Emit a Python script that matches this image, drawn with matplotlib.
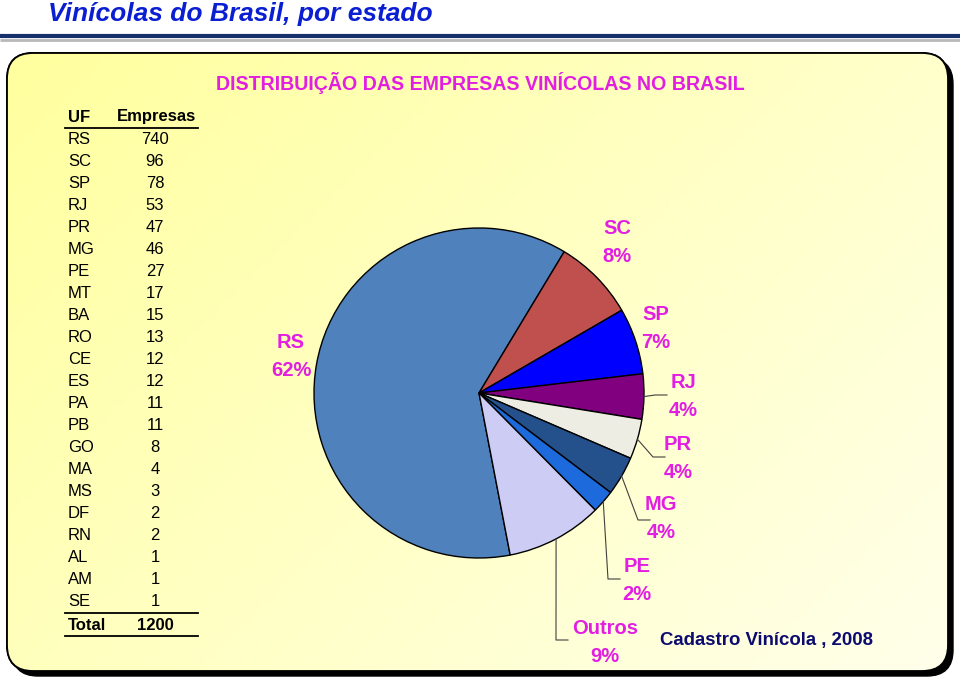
import numpy as np
import matplotlib
matplotlib.use("Agg")
import matplotlib.pyplot as plt
from matplotlib.patches import FancyBboxPatch

plt.rcParams['font.family'] = ['Liberation Sans', 'DejaVu Sans']

# dados da tabela
uf = ['RS', 'SC', 'SP', 'RJ', 'PR', 'MG', 'PE', 'MT', 'BA', 'RO', 'CE', 'ES',
      'PA', 'PB', 'GO', 'MA', 'MS', 'DF', 'RN', 'AL', 'AM', 'SE']
empresas = [740, 96, 78, 53, 47, 46, 27, 17, 15, 13, 12, 12,
            11, 11, 8, 4, 3, 2, 2, 1, 1, 1]
total = 1200

# fatias do grafico: 7 primeiros estados + Outros
pie_labels = ['RS', 'SC', 'SP', 'RJ', 'PR', 'MG', 'PE', 'Outros']
pie_values = empresas[:7] + [total - sum(empresas[:7])]
pie_colors = ['#4F81BD', '#C0504D', '#0000FF', '#800080', '#EDEDE3',
              '#24508C', '#1C6ADB', '#CCCCF5']

W, H = 960, 679
fig = plt.figure(figsize=(W / 100, H / 100), dpi=100)
ax = fig.add_axes([0, 0, 1, 1])
ax.set_xlim(0, W)
ax.set_ylim(0, H)
ax.axis('off')

def Y(y):
    # coordenadas de pixel medidas de cima
    return H - y

# titulo e linha
ax.text(48, Y(14), 'Vinícolas do Brasil, por estado', fontsize=19, fontweight='bold',
        fontstyle='italic', color='#0A1ED2', va='center', ha='left')
ax.plot([0, W], [Y(40), Y(40)], color='#B8B8B8', lw=2.0, solid_capstyle='butt')
ax.plot([0, W], [Y(36), Y(36)], color='#15306A', lw=3.0, solid_capstyle='butt')

# painel amarelo com sombra
px0, py0, px1, py1 = 7, 53, 948, 671
shadow = FancyBboxPatch((px0 + 5, Y(py1 + 5)), px1 - px0, py1 - py0,
                        boxstyle='round,pad=0,rounding_size=26',
                        fc='black', ec='black', lw=1, zorder=1)
ax.add_patch(shadow)
panel = FancyBboxPatch((px0, Y(py1)), px1 - px0, py1 - py0,
                       boxstyle='round,pad=0,rounding_size=26',
                       fc='#FFFFB0', ec='black', lw=1.3, zorder=2)
ax.add_patch(panel)
gx = np.linspace(0, 1, 200)
gy = np.linspace(0, 1, 100)
GX, GY = np.meshgrid(gx, gy)
t = np.clip(0.6 * GX + 0.4 * (1 - GY), 0, 1)
c0 = np.array([1.0, 1.0, 0.62])
c1 = np.array([1.0, 1.0, 0.92])
img = c0[None, None, :] * (1 - t[..., None]) + c1[None, None, :] * t[..., None]
im = ax.imshow(img, extent=[px0, px1, Y(py1), Y(py0)], origin='lower',
               aspect='auto', zorder=2.5)
im.set_clip_path(panel)
edge = FancyBboxPatch((px0, Y(py1)), px1 - px0, py1 - py0,
                      boxstyle='round,pad=0,rounding_size=26',
                      fc='none', ec='black', lw=1.3, zorder=3)
ax.add_patch(edge)
ax.set_xlim(0, W)
ax.set_ylim(0, H)

# tabela
fs = 12
ax.text(68, Y(117), 'UF', fontsize=fs, fontweight='bold', va='center', ha='left', zorder=5)
ax.text(157, Y(117), 'Empresas', fontsize=fs, fontweight='bold', va='center', ha='center', zorder=5)
ax.plot([65, 198], [Y(128), Y(128)], color='black', lw=1.3, zorder=5)
for i in range(len(uf)):
    yy = Y(140 + i * 22.0)
    ax.text(68, yy, uf[i], fontsize=fs, va='center', ha='left', zorder=5)
    ax.text(155, yy, str(empresas[i]), fontsize=fs, va='center', ha='center', zorder=5)
ax.plot([65, 198], [Y(613), Y(613)], color='black', lw=1.3, zorder=5)
ax.text(68, Y(625), 'Total', fontsize=fs, fontweight='bold', va='center', ha='left', zorder=5)
ax.text(155, Y(625), str(total), fontsize=fs, fontweight='bold', va='center', ha='center', zorder=5)
ax.plot([65, 198], [Y(636), Y(636)], color='black', lw=1.3, zorder=5)

# grafico de pizza
magenta = '#E31EE3'
ax.text(480, Y(83), 'DISTRIBUIÇÃO DAS EMPRESAS VINÍCOLAS NO BRASIL', fontsize=14.1,
        fontweight='bold', color=magenta, va='center', ha='center', zorder=5)
cx, cy, r = 479, Y(393), 165
wedges, _ = ax.pie(pie_values, colors=pie_colors, center=(cx, cy), radius=r,
                   startangle=280.9, counterclock=False,
                   wedgeprops=dict(edgecolor='black', linewidth=1.0, zorder=4),
                   frame=True)
for w in wedges:
    w.set_zorder(4)
ax.set_xlim(0, W)
ax.set_ylim(0, H)
ax.axis('off')

# rotulos (posicao do texto) e linhas de chamada
label_pos = [(291, 356), (617, 243), (656, 328), (683, 396), (678, 458),
             (661, 519), (637, 581), (605, 642)]
leader_end = [None, None, None, (667, 395), (665, 457), (650, 520), (620, 579), (568, 640)]
for i, w in enumerate(wedges):
    pct = int(pie_values[i] * 100.0 / total + 0.5)
    lx, ly = label_pos[i]
    ax.text(lx, Y(ly), '%s\n%d%%' % (pie_labels[i], pct), fontsize=14.5, fontweight='bold',
            color=magenta, ha='center', va='center', linespacing=1.6, zorder=5)
    if leader_end[i] is not None:
        ang = np.deg2rad((w.theta1 + w.theta2) / 2.0)
        sx = cx + r * np.cos(ang)
        sy = cy + r * np.sin(ang)
        ex, ey = leader_end[i]
        ax.plot([sx, ex - 12, ex], [sy, Y(ey), Y(ey)], color='#404040', lw=0.8, zorder=5)

ax.text(766, Y(641), 'Cadastro Vinícola , 2008', fontsize=13.4, fontweight='bold',
        color='#0B0B70', ha='center', va='center', zorder=5)

fig.savefig('out.png', dpi=100)
